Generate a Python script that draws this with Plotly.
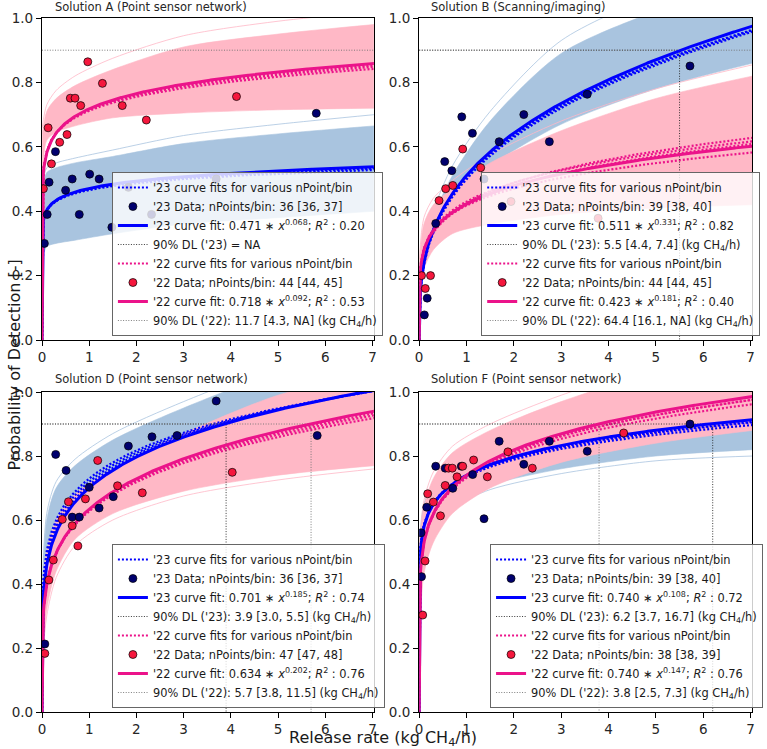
import numpy as np
import plotly.graph_objects as go

# ---- data ----
titles = ["Solution A (Point sensor network)", "Solution B (Scanning/imaging)",
          "Solution D (Point sensor network)", "Solution F (Point sensor network)"]

# '23 data points
a23_x = [0.05, 0.11, 0.15, 0.285, 0.5, 0.64, 0.79, 1.01, 1.21, 1.48, 1.83, 2.32, 3.69, 5.81]
a23_y = [0.30, 0.39, 0.49, 0.585, 0.465, 0.50, 0.39, 0.515, 0.50, 0.35, 0.474, 0.39, 0.50, 0.704]
b23_x = [0.11, 0.17, 0.35, 0.54, 0.69, 0.90, 1.125, 1.37, 1.69, 2.21, 2.75, 3.55, 5.72]
b23_y = [0.078, 0.13, 0.362, 0.554, 0.526, 0.693, 0.642, 0.50, 0.616, 0.70, 0.616, 0.763, 0.851]
d23_x = [0.06, 0.29, 0.51, 0.64, 0.79, 1.0, 1.21, 1.51, 1.83, 2.33, 2.86, 3.69, 5.83]
d23_y = [0.2125, 0.805, 0.755, 0.609, 0.609, 0.702, 0.6375, 0.673, 0.831, 0.86, 0.864, 0.972, 0.864]
f23_x = [0.04, 0.05, 0.16, 0.35, 0.55, 0.71, 0.89, 1.13, 1.37, 1.69, 2.21, 2.75, 3.55, 5.72]
f23_y = [0.56, 0.423, 0.64, 0.768, 0.762, 0.699, 0.768, 0.742, 0.604, 0.846, 0.774, 0.846, 0.815, 0.90]

# '22 data points
a22_x = [0.03, 0.13, 0.20, 0.375, 0.53, 0.60, 0.70, 0.82, 0.97, 1.28, 1.70, 2.21, 4.12]
a22_y = [0.47, 0.659, 0.547, 0.614, 0.638, 0.751, 0.751, 0.728, 0.864, 0.797, 0.728, 0.683, 0.756]
b22_x = [0.05, 0.13, 0.24, 0.42, 0.56, 0.71, 0.92, 1.30, 1.94, 3.78]
b22_y = [0.20, 0.16, 0.20, 0.433, 0.47, 0.48, 0.593, 0.535, 0.43, 0.378]
d22_x = [0.06, 0.146, 0.24, 0.43, 0.56, 0.64, 0.76, 0.92, 1.18, 1.60, 2.125, 4.03]
d22_y = [0.183, 0.4125, 0.475, 0.602, 0.657, 0.582, 0.519, 0.666, 0.786, 0.707, 0.685, 0.749]
f22_x = [0.075, 0.125, 0.18, 0.30, 0.45, 0.55, 0.62, 0.70, 0.80, 0.92, 1.15, 1.44, 1.875, 2.39, 4.32]
f22_y = [0.303, 0.472, 0.682, 0.656, 0.613, 0.708, 0.762, 0.762, 0.735, 0.768, 0.7875, 0.735, 0.813, 0.762, 0.872]

# power-law fits y = a * x^b (from the legends)
fit23_a = [0.471, 0.511, 0.701, 0.740]
fit23_b = [0.068, 0.331, 0.185, 0.108]
fit23_r2 = ["0.20", "0.82", "0.74", "0.72"]
fit22_a = [0.718, 0.423, 0.634, 0.740]
fit22_b = [0.092, 0.181, 0.202, 0.147]
fit22_r2 = ["0.53", "0.40", "0.76", "0.76"]

# fits for various nPoint/bin (a, b), estimated
var23 = [[(0.468, 0.066), (0.466, 0.064), (0.470, 0.065)],
         [(0.505, 0.330), (0.500, 0.333), (0.508, 0.328)],
         [(0.730, 0.163), (0.720, 0.170), (0.710, 0.178)],
         [(0.737, 0.105), (0.735, 0.102), (0.740, 0.104)]]
var22 = [[(0.715, 0.088), (0.712, 0.086), (0.716, 0.090)],
         [(0.420, 0.190), (0.425, 0.200), (0.418, 0.170), (0.430, 0.185)],
         [(0.630, 0.198), (0.628, 0.195), (0.632, 0.200)],
         [(0.735, 0.145), (0.732, 0.140), (0.738, 0.143)]]

# 90% detection limits
dl23 = [None, 5.5, 3.9, 6.2]
dl22 = [11.7, 64.4, 5.7, 3.8]
dl23_txt = ["90% DL ('23) = NA",
            "90% DL ('23): 5.5 [4.4, 7.4] (kg CH<sub>4</sub>/h)",
            "90% DL ('23): 3.9 [3.0, 5.5] (kg CH<sub>4</sub>/h)",
            "90% DL ('23): 6.2 [3.7, 16.7] (kg CH<sub>4</sub>/h)"]
dl22_txt = ["90% DL ('22): 11.7 [4.3, NA] (kg CH<sub>4</sub>/h)",
            "90% DL ('22): 64.4 [16.1, NA] (kg CH<sub>4</sub>/h)",
            "90% DL ('22): 5.7 [3.8, 11.5] (kg CH<sub>4</sub>/h)",
            "90% DL ('22): 3.8 [2.5, 7.3] (kg CH<sub>4</sub>/h)"]
n23_txt = ["36 [36, 37]", "39 [38, 40]", "36 [36, 37]", "39 [38, 40]"]
n22_txt = ["44 [44, 45]", "44 [44, 45]", "47 [47, 48]", "38 [38, 39]"]

# bootstrap band envelopes (read at band_x), plus one stray outer curve each
band_x = [0.005, 0.1, 0.3, 0.7, 1.5, 3, 5, 7.05]
a23_lo = [0.25, 0.29, 0.30, 0.31, 0.33, 0.36, 0.38, 0.40]
a23_hi = [0.45, 0.52, 0.535, 0.55, 0.57, 0.61, 0.64, 0.665]
a23_out = [0.47, 0.535, 0.55, 0.565, 0.59, 0.635, 0.67, 0.70]
a22_lo = [0.45, 0.62, 0.645, 0.665, 0.69, 0.705, 0.715, 0.72]
a22_hi = [0.64, 0.71, 0.75, 0.79, 0.84, 0.91, 0.95, 0.98]
a22_out = [0.66, 0.73, 0.775, 0.82, 0.875, 0.945, 0.99, 1.02]
b23_lo = [0.08, 0.22, 0.33, 0.43, 0.54, 0.67, 0.78, 0.86]
b23_hi = [0.10, 0.26, 0.38, 0.51, 0.68, 0.89, 1.02, 1.10]
b23_out = [0.11, 0.27, 0.40, 0.54, 0.71, 0.93, 1.07, 1.15]
b22_lo = [0.12, 0.22, 0.28, 0.33, 0.36, 0.39, 0.41, 0.42]
b22_hi = [0.24, 0.36, 0.42, 0.47, 0.55, 0.65, 0.75, 0.82]
b22_out = [0.25, 0.38, 0.44, 0.495, 0.575, 0.68, 0.78, 0.855]
d23_lo = [0.22, 0.38, 0.49, 0.59, 0.69, 0.79, 0.87, 0.93]
d23_hi = [0.36, 0.60, 0.70, 0.77, 0.85, 0.95, 1.06, 1.12]
d23_out = [0.37, 0.62, 0.72, 0.79, 0.87, 0.97, 1.08, 1.14]
d22_lo = [0.16, 0.32, 0.44, 0.54, 0.62, 0.69, 0.74, 0.77]
d22_hi = [0.36, 0.50, 0.60, 0.68, 0.76, 0.87, 0.99, 1.06]
d22_out = [0.15, 0.30, 0.42, 0.52, 0.60, 0.675, 0.725, 0.76]
f23_lo = [0.38, 0.52, 0.60, 0.66, 0.71, 0.76, 0.80, 0.82]
f23_hi = [0.53, 0.65, 0.71, 0.76, 0.81, 0.87, 0.92, 0.95]
f23_out = [0.36, 0.50, 0.58, 0.64, 0.695, 0.745, 0.785, 0.80]
f22_lo = [0.22, 0.43, 0.53, 0.62, 0.70, 0.78, 0.84, 0.88]
f22_hi = [0.50, 0.64, 0.73, 0.81, 0.88, 0.97, 1.06, 1.10]
f22_out = [0.52, 0.66, 0.75, 0.83, 0.90, 0.99, 1.08, 1.12]

pts23 = [(a23_x, a23_y), (b23_x, b23_y), (d23_x, d23_y), (f23_x, f23_y)]
pts22 = [(a22_x, a22_y), (b22_x, b22_y), (d22_x, d22_y), (f22_x, f22_y)]
bands23 = [(a23_lo, a23_hi, a23_out), (b23_lo, b23_hi, b23_out), (d23_lo, d23_hi, d23_out), (f23_lo, f23_hi, f23_out)]
bands22 = [(a22_lo, a22_hi, a22_out), (b22_lo, b22_hi, b22_out), (d22_lo, d22_hi, d22_out), (f22_lo, f22_hi, f22_out)]

# ---- styling ----
FONT = "DejaVu Sans"
BLUE, NAVY, BAND_BLUE = "#0000ff", "#00006e", "#a9c4df"
PINK, RED, BAND_PINK = "#eb138a", "#f5173d", "#ffb8c6"
DOT = "1px,1.6px"

W, H = 767, 749
L, R, T, B = 42, 4, 18, 37
pw, ph = W - L - R, H - T - B
def px_x(p): return (p - L) / pw
def px_y(p): return (H - B - p) / ph

dom_x = [[0, px_x(379)], [px_x(425), 1], [0, px_x(379)], [px_x(425), 1]]
dom_y = [[px_y(340), 1], [px_y(340), 1], [0, px_y(392)], [0, px_y(392)]]
leg_pos = [(113, 336), (488, 336), (113, 708), (497, 708)]   # bottom-left corners
title_pos = [(53, 7), (435, 7), (53, 379), (435, 379)]

xfit = np.linspace(0, 7.1, 500)

fig = go.Figure()

for i in range(4):
    xa = "x" if i == 0 else f"x{i+1}"
    ya = "y" if i == 0 else f"y{i+1}"
    leg = "legend" if i == 0 else f"legend{i+1}"
    common = dict(xaxis=xa, yaxis=ya, legend=leg)

    # bands ('23 first, '22 on top)
    for (lo, hi, out), col in ((bands23[i], BAND_BLUE), (bands22[i], BAND_PINK)):
        spl = dict(color=col, shape="spline", smoothing=0.8)
        fig.add_trace(go.Scatter(x=band_x, y=out, mode="lines", line=dict(width=0.8, **spl),
                                 showlegend=False, hoverinfo="skip", **common))
        fig.add_trace(go.Scatter(x=band_x, y=lo, mode="lines", line=dict(width=0.6, **spl),
                                 showlegend=False, hoverinfo="skip", **common))
        fig.add_trace(go.Scatter(x=band_x, y=hi, mode="lines", line=dict(width=0.6, **spl),
                                 fill="tonexty", fillcolor=col, showlegend=False, hoverinfo="skip", **common))

    # fits for various nPoint/bin
    for k, (a, b) in enumerate(var23[i]):
        fig.add_trace(go.Scatter(x=xfit, y=a * xfit ** b, mode="lines", line=dict(color=BLUE, width=2.2, dash="2px,2px"),
                                 name="'23 curve fits for various nPoint/bin", showlegend=(k == 0), legendrank=1,
                                 hoverinfo="skip", **common))
    for k, (a, b) in enumerate(var22[i]):
        fig.add_trace(go.Scatter(x=xfit, y=a * xfit ** b, mode="lines", line=dict(color=PINK, width=2.2, dash="2px,2px"),
                                 name="'22 curve fits for various nPoint/bin", showlegend=(k == 0), legendrank=5,
                                 hoverinfo="skip", **common))

    # 90% DL lines
    d = dl23[i]
    fig.add_trace(go.Scatter(x=[0, d, d] if d else [None], y=[0.9, 0.9, 0] if d else [None], mode="lines",
                             line=dict(color="#222222", width=0.9, dash=DOT), name=dl23_txt[i],
                             legendrank=4, **common))
    d = dl22[i]
    fig.add_trace(go.Scatter(x=[0, d, d], y=[0.9, 0.9, 0], mode="lines",
                             line=dict(color="#707070", width=0.9, dash=DOT), name=dl22_txt[i],
                             legendrank=8, **common))

    # main fits
    fig.add_trace(go.Scatter(x=xfit, y=fit23_a[i] * xfit ** fit23_b[i], mode="lines", line=dict(color=BLUE, width=3),
                             name=f"'23 curve fit: {fit23_a[i]:.3f} ∗ <i>x</i><sup>{fit23_b[i]:.3f}</sup>; <i>R</i><sup>2</sup> : {fit23_r2[i]}",
                             legendrank=3, **common))
    fig.add_trace(go.Scatter(x=xfit, y=fit22_a[i] * xfit ** fit22_b[i], mode="lines", line=dict(color=PINK, width=3),
                             name=f"'22 curve fit: {fit22_a[i]:.3f} ∗ <i>x</i><sup>{fit22_b[i]:.3f}</sup>; <i>R</i><sup>2</sup> : {fit22_r2[i]}",
                             legendrank=7, **common))

    # data points
    fig.add_trace(go.Scatter(x=pts23[i][0], y=pts23[i][1], mode="markers",
                             marker=dict(size=8, color=NAVY, line=dict(color="black", width=0.7)),
                             name=f"'23 Data; nPoints/bin: {n23_txt[i]}", legendrank=2, **common))
    fig.add_trace(go.Scatter(x=pts22[i][0], y=pts22[i][1], mode="markers",
                             marker=dict(size=8, color=RED, line=dict(color="black", width=0.7)),
                             name=f"'22 Data; nPoints/bin: {n22_txt[i]}", legendrank=6, **common))

axis_style = dict(showline=True, mirror=True, linecolor="black", linewidth=1.2, ticks="outside", ticklen=5,
                  tickwidth=1.2, tickcolor="black", showgrid=False, zeroline=False,
                  tickfont=dict(family=FONT, size=13.5, color="#262626"))

layout = dict(width=W, height=H, margin=dict(l=L, r=R, t=T, b=B), plot_bgcolor="white", paper_bgcolor="white",
              font=dict(family=FONT, color="#1a1a1a"), annotations=[])
for i in range(4):
    sfx = "" if i == 0 else str(i + 1)
    layout["xaxis" + sfx] = dict(domain=dom_x[i], range=[0, 7.03], tickvals=list(range(8)),
                                 anchor="y" + sfx, **axis_style)
    layout["yaxis" + sfx] = dict(domain=dom_y[i], range=[0, 1], tickvals=[0, 0.2, 0.4, 0.6, 0.8, 1.0],
                                 tickformat=".1f", anchor="x" + sfx, **axis_style)
    lx, ly = leg_pos[i]
    layout["legend" + sfx] = dict(x=px_x(lx), y=px_y(ly), xanchor="left", yanchor="bottom",
                                  bgcolor="rgba(255,255,255,0.8)", bordercolor="#666666", borderwidth=1,
                                  font=dict(family=FONT, size=11.4, color="#1a1a1a"), traceorder="normal",
                                  tracegroupgap=0)
    tx, ty = title_pos[i]
    layout["annotations"].append(dict(text=titles[i], x=px_x(tx), y=px_y(ty), xref="paper", yref="paper",
                                      xanchor="left", yanchor="middle", showarrow=False,
                                      font=dict(family=FONT, size=11.5, color="#262626")))

layout["annotations"].append(dict(text="Probability of Detection [-]", x=px_x(14), y=px_y(365), xref="paper",
                                  yref="paper", textangle=-90, showarrow=False, xanchor="center", yanchor="middle",
                                  font=dict(family=FONT, size=16, color="#1a1a1a")))
layout["annotations"].append(dict(text="Release rate (kg CH<sub>4</sub>/h)", x=px_x(388), y=px_y(738),
                                  xref="paper", yref="paper", showarrow=False, xanchor="center", yanchor="middle",
                                  font=dict(family=FONT, size=16, color="#1a1a1a")))

fig.update_layout(**layout)
fig.write_html("out.html", config={"displayModeBar": False},
               post_script="document.body.style.margin='0';document.body.style.overflow='hidden';")
